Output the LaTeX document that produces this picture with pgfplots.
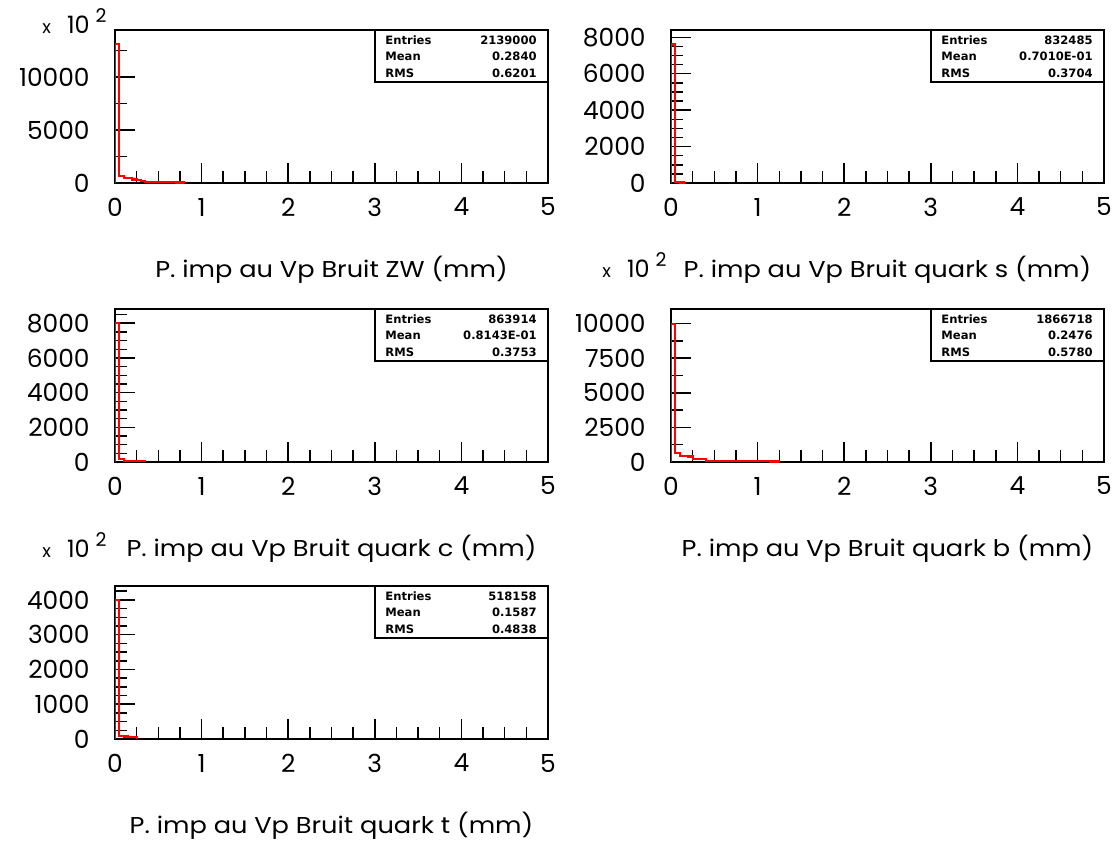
\documentclass[border=0pt]{standalone}
\usepackage{pgfplots}
\pgfplotsset{compat=1.18}
\usepackage{fontspec}
\setmainfont{Poppins}
\newfontfamily\titlefont[FakeStretch=1.12]{Poppins}
\newfontfamily\statfont{DejaVu Sans}

% common frame of one HBOOK-style histogram panel
\pgfplotsset{
  hbook/.style={
    scale only axis, width=216.5bp, height=76.5bp, anchor=south west,
    xmin=0, xmax=5, ymin=0,
    xtick={0,1,2,3,4,5}, minor xtick={0,0.25,...,5},
    tick pos=left, tick align=inside,
    major tick length=9.8bp, minor tick length=5.8bp,
    axis line style={line width=0.75bp},
    every tick/.style={black, line width=0.75bp},
    ticklabel style={font=\fontsize{12.5}{13}\selectfont},
    /pgf/number format/assume math mode=true,
    /pgf/number format/1000 sep={},
    scaled y ticks=false,
    xticklabel style={anchor=center, yshift=-12bp, inner sep=0pt},
    yticklabel style={anchor=east, xshift=-12.5bp, inner sep=0pt},
    xlabel style={at={(rel axis cs:0.5,0)}, anchor=base, yshift=-47bp,
      inner sep=0pt, font=\titlefont\fontsize{11.5}{12}\selectfont},
  },
  histo/.style={const plot, color=red, line width=1.1bp},
}

% statistics box in the upper right corner
\newcommand{\statfnt}{\statfont\bfseries\fontsize{5.8}{6}\selectfont}
\newcommand{\statbox}[3]{%
  \draw[line width=0.75bp] (rel axis cs:0.6005,1) rectangle (rel axis cs:1,0.66);
  \node[anchor=west, inner sep=0pt, font=\statfnt]
    at (rel axis cs:0.6005,0.935) [xshift=5bp] {Entries};
  \node[anchor=west, inner sep=0pt, font=\statfnt]
    at (rel axis cs:0.6005,0.827) [xshift=5bp] {Mean};
  \node[anchor=west, inner sep=0pt, font=\statfnt]
    at (rel axis cs:0.6005,0.720) [xshift=5bp] {RMS};
  \node[anchor=east, inner sep=0pt, font=\statfnt]
    at (rel axis cs:1,0.935) [xshift=-5.5bp] {#1};
  \node[anchor=east, inner sep=0pt, font=\statfnt]
    at (rel axis cs:1,0.827) [xshift=-5.5bp] {#2};
  \node[anchor=east, inner sep=0pt, font=\statfnt]
    at (rel axis cs:1,0.720) [xshift=-5.5bp] {#3};
}

% the "x 10^2" scale factor written beside an axis
\newcommand{\factor}{{\fontsize{9}{10}\selectfont x}\hspace{8bp}{\fontsize{12}{13}\selectfont 10}\hspace{3bp}\raisebox{5.5bp}{\fontsize{9.5}{10}\selectfont 2}}

\begin{document}
\begin{tikzpicture}
\useasboundingbox (0bp,0bp) rectangle (557.5bp,-420.5bp);

% ---- Bruit ZW ----
\begin{axis}[hbook, at={(57.5bp,-91.5bp)}, ymax=14450,
  ytick={0,5000,10000}, minor ytick={2500,7500,12500},
  xlabel={P. imp au Vp Bruit ZW (mm)}]
\addplot[histo] coordinates {(0,0) (0,13100) (0.05,680) (0.10,455) (0.15,455)
  (0.20,330) (0.25,260) (0.30,200) (0.35,110) (0.40,100) (0.45,90) (0.50,85)
  (0.55,75) (0.60,70) (0.65,60) (0.70,55) (0.75,50) (0.80,0)};
\statbox{2139000}{0.2840}{0.6201}
\end{axis}

% ---- Bruit quark s ----
\begin{axis}[hbook, at={(335.5bp,-91.5bp)}, ymax=8400,
  ytick={0,2000,4000,6000,8000}, minor ytick={0,500,...,8000},
  xlabel={P. imp au Vp Bruit quark s (mm)}]
\addplot[histo] coordinates {(0,0) (0,7600) (0.05,40) (0.10,25) (0.15,0)};
\statbox{832485}{0.7010E-01}{0.3704}
\end{axis}

% ---- Bruit quark c ----
\begin{axis}[hbook, at={(57.5bp,-231bp)}, ymax=8820,
  ytick={0,2000,4000,6000,8000}, minor ytick={0,500,...,8500},
  xlabel={P. imp au Vp Bruit quark c (mm)}]
\addplot[histo] coordinates {(0,0) (0,8000) (0.05,190) (0.10,60) (0.15,60)
  (0.20,55) (0.25,50) (0.30,45) (0.35,0)};
\statbox{863914}{0.8143E-01}{0.3753}
\end{axis}

% ---- Bruit quark b ----
\begin{axis}[hbook, at={(335.5bp,-231bp)}, ymax=11050,
  ytick={0,2500,5000,7500,10000}, minor ytick={0,1250,...,10000},
  xlabel={P. imp au Vp Bruit quark b (mm)}]
\addplot[histo] coordinates {(0,0) (0,9950) (0.05,660) (0.10,410) (0.15,410)
  (0.20,400) (0.25,220) (0.30,210) (0.35,200) (0.40,85) (0.45,80) (0.50,80)
  (0.55,75) (0.60,75) (0.65,70) (0.70,65) (0.75,60) (0.80,60) (0.85,55)
  (0.90,55) (0.95,50) (1.00,50) (1.05,45) (1.10,45) (1.15,40) (1.20,40) (1.25,0)};
\statbox{1866718}{0.2476}{0.5780}
\end{axis}

% ---- Bruit quark t ----
\begin{axis}[hbook, at={(57.5bp,-369.5bp)}, ymax=4400,
  ytick={0,1000,2000,3000,4000}, minor ytick={0,250,...,4250},
  xlabel={P. imp au Vp Bruit quark t (mm)}]
\addplot[histo] coordinates {(0,0) (0,3990) (0.05,80) (0.10,70) (0.15,60)
  (0.20,50) (0.25,0)};
\statbox{518158}{0.1587}{0.4838}
\end{axis}

% scale factors of the vertical axes
\node[anchor=base east, inner sep=0pt] at (53.5bp,-16.5bp) {\factor};
\node[anchor=base east, inner sep=0pt] at (53.5bp,-278.5bp) {\factor};
\node[anchor=base east, inner sep=0pt] at (333.5bp,-138.5bp) {\factor};
\end{tikzpicture}
\end{document}
